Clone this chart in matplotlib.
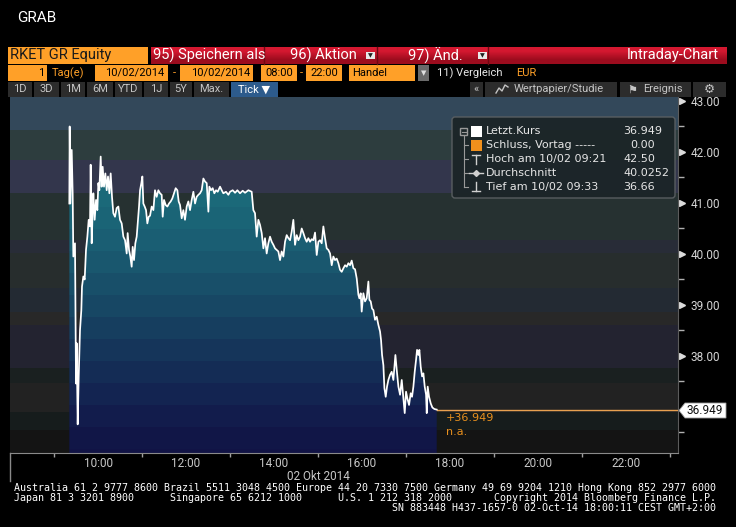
import matplotlib
matplotlib.use('Agg')
import matplotlib.pyplot as plt
import numpy as np
from matplotlib import transforms
from matplotlib.colors import to_rgb
from matplotlib.patches import FancyBboxPatch, Polygon, Rectangle

plt.rcParams['font.family'] = ['Roboto', 'DejaVu Sans']

W, H = 736, 527

# intraday ticks, RKET GR, 02 Okt 2014 (hours as decimals)
times = [
    9.348, 9.356, 9.371, 9.402, 9.424, 9.439, 9.477, 9.500, 9.515, 9.538,
    9.561, 9.591, 9.621, 9.636, 9.667, 9.697, 9.727, 9.758, 9.788, 9.818,
    9.833, 9.856, 9.879, 9.894, 9.924, 9.955, 9.985, 10.008, 10.030, 10.061,
    10.083, 10.106, 10.136, 10.167, 10.197, 10.227, 10.258, 10.288, 10.318, 10.348,
    10.386, 10.424, 10.462, 10.500, 10.538, 10.576, 10.614, 10.652, 10.674, 10.705,
    10.735, 10.765, 10.788, 10.818, 10.848, 10.879, 10.909, 10.932, 10.955, 10.985,
    11.008, 11.030, 11.061, 11.091, 11.121, 11.152, 11.182, 11.220, 11.258, 11.295,
    11.333, 11.371, 11.409, 11.447, 11.470, 11.500, 11.538, 11.576, 11.614, 11.652,
    11.689, 11.727, 11.765, 11.803, 11.833, 11.864, 11.902, 11.939, 11.977, 12.015,
    12.053, 12.091, 12.129, 12.167, 12.205, 12.242, 12.280, 12.318, 12.356, 12.394,
    12.432, 12.470, 12.508, 12.530, 12.568, 12.606, 12.644, 12.682, 12.720, 12.773,
    12.811, 12.848, 12.909, 12.962, 13.000, 13.061, 13.114, 13.167, 13.227, 13.288,
    13.341, 13.417, 13.492, 13.530, 13.568, 13.606, 13.644, 13.682, 13.720, 13.758,
    13.795, 13.833, 13.871, 13.909, 13.947, 13.985, 14.023, 14.061, 14.098, 14.136,
    14.174, 14.212, 14.250, 14.288, 14.326, 14.364, 14.402, 14.439, 14.477, 14.515,
    14.553, 14.591, 14.629, 14.667, 14.705, 14.742, 14.780, 14.818, 14.856, 14.894,
    14.932, 14.970, 15.008, 15.045, 15.083, 15.121, 15.159, 15.197, 15.235, 15.273,
    15.311, 15.348, 15.386, 15.424, 15.462, 15.500, 15.538, 15.576, 15.614, 15.652,
    15.689, 15.727, 15.765, 15.803, 15.841, 15.879, 15.917, 15.939, 15.970, 15.992,
    16.030, 16.068, 16.106, 16.144, 16.167, 16.197, 16.227, 16.258, 16.295, 16.333,
    16.371, 16.409, 16.432, 16.455, 16.485, 16.508, 16.538, 16.568, 16.598, 16.636,
    16.674, 16.712, 16.758, 16.788, 16.826, 16.864, 16.902, 16.939, 16.970, 17.000,
    17.030, 17.068, 17.106, 17.136, 17.167, 17.197, 17.227, 17.250, 17.280, 17.303,
    17.333, 17.364, 17.394, 17.424, 17.455, 17.470, 17.492, 17.523, 17.561, 17.598,
    17.644, 17.697,
]
prices = [
    40.99, 42.50, 40.99, 42.04, 41.19, 39.95, 40.21, 37.46, 38.25, 36.66,
    37.59, 38.51, 38.90, 39.36, 39.56, 39.50, 40.08, 40.34, 40.67, 40.54,
    41.75, 40.21, 40.86, 41.19, 40.67, 41.06, 40.86, 41.39, 41.25, 41.91,
    41.32, 41.71, 41.32, 41.58, 41.25, 41.52, 41.19, 41.58, 41.12, 40.80,
    40.73, 40.90, 40.93, 40.67, 40.60, 40.34, 40.27, 40.01, 40.41, 40.08,
    39.95, 39.75, 40.14, 39.88, 40.21, 40.34, 40.67, 40.93, 41.25, 41.39,
    41.52, 40.99, 40.93, 40.86, 40.60, 40.73, 40.75, 40.93, 40.86, 41.25,
    41.12, 41.25, 41.19, 41.16, 40.73, 41.06, 40.96, 40.93, 40.99, 41.03,
    41.09, 41.19, 41.29, 41.25, 41.03, 40.96, 40.70, 40.86, 40.67, 40.93,
    41.03, 40.86, 41.06, 41.22, 40.99, 41.12, 41.16, 41.19, 41.25, 41.48,
    41.42, 41.39, 40.83, 41.32, 41.25, 41.29, 41.19, 41.25, 41.22, 41.32,
    41.25, 41.19, 41.22, 41.16, 41.22, 41.25, 41.20, 41.25, 41.19, 41.24,
    41.20, 41.25, 41.22, 40.86, 40.80, 40.34, 40.67, 40.57, 40.41, 40.11,
    40.31, 40.01, 40.21, 40.34, 40.24, 40.18, 40.11, 40.08, 40.05, 39.88,
    40.05, 39.95, 40.24, 40.37, 40.31, 40.27, 40.44, 40.67, 40.18, 40.37,
    40.27, 40.34, 40.50, 40.41, 40.31, 40.24, 40.31, 40.24, 40.29, 40.27,
    40.42, 39.98, 40.24, 40.27, 40.21, 40.54, 40.31, 40.11, 40.08, 40.01,
    39.78, 39.95, 39.88, 39.91, 39.82, 39.69, 39.65, 39.72, 39.78, 39.75,
    39.82, 39.78, 39.87, 39.72, 39.70, 39.52, 39.20, 39.13, 39.23, 38.87,
    39.23, 39.07, 39.13, 39.46, 39.10, 39.07, 38.93, 38.90, 38.71, 38.77,
    38.61, 38.48, 38.31, 38.02, 37.82, 37.37, 37.20, 37.40, 37.53, 37.63,
    37.69, 37.53, 38.02, 37.73, 37.40, 37.24, 37.53, 37.17, 36.88, 37.30,
    37.17, 37.04, 37.27, 37.20, 37.40, 37.69, 37.92, 38.12, 38.02, 38.12,
    37.79, 37.60, 37.66, 37.40, 37.24, 36.88, 37.40, 37.20, 37.07, 36.99,
    36.96, 36.949,
]

last_price = 36.949
prev_close = 0.00
high_price, high_time = 42.50, '09:21'
low_price, low_time = 36.66, '09:33'
average = 40.0252

y_ticks = [38, 39, 40, 41, 42, 43]
x_ticks = [10, 12, 14, 16, 18, 20, 22]
x_labels = ['10:00', '12:00', '14:00', '16:00', '18:00', '20:00', '22:00']

XMIN, XMAX = 8.0, 23.18
YMIN, YMAX = 36.098, 43.078

# plot area in pixels: x 10..678, y 97..453
PL, PR, PT, PB = 10, 678, 97, 453
ph = PB - PT

fig = plt.figure(figsize=(W / 100, H / 100), dpi=100, facecolor='black')
ax = fig.add_axes([PL / W, (H - PB) / H, (PR - PL) / W, ph / H])


def banded(edges, colors):
    img = np.zeros((ph, 1, 3))
    for i, c in enumerate(colors):
        top = edges[i] - PT
        bot = (edges[i + 1] if i + 1 < len(edges) else PB) - PT
        img[top:bot, 0, :] = to_rgb(c)
    return img


# banded background
bg_edges = [97, 130, 160, 193, 240, 253, 288, 312, 325, 368, 383, 412, 430]
bg_cols = ['#33485a', '#2d3d3e', '#33364c', '#263131', '#282c37', '#272d2d',
           '#232a33', '#282828', '#232330', '#1a2020', '#222222', '#161c1c', '#141414']
ax.imshow(banded(bg_edges, bg_cols), extent=[XMIN, XMAX, YMIN, YMAX],
          aspect='auto', interpolation='nearest', zorder=0)

# gradient fill under the price line
fill_edges = list(range(97, 453, 22))
fill_cols = ['#1e7482', '#1d7180', '#1c6e7e', '#1b6b7b', '#1b6979', '#1a6476',
             '#1a5e73', '#19576e', '#184f69', '#174764', '#163e5f', '#15355a',
             '#142c55', '#132451', '#121c4c', '#111647', '#111345']
fill_cols = fill_cols[:len(fill_edges)]
verts = np.column_stack([np.r_[times[0], times, times[-1]],
                         np.r_[YMIN, prices, YMIN]])
clip = Polygon(verts, closed=True, facecolor='none', edgecolor='none')
ax.add_patch(clip)
im = ax.imshow(banded(fill_edges, fill_cols), extent=[XMIN, XMAX, YMIN, YMAX],
               aspect='auto', interpolation='nearest', zorder=1)
im.set_clip_path(clip)

ax.plot(times, prices, color='white', lw=1.25, zorder=4)
ax.plot([times[-1], XMAX], [last_price, last_price], color='#e8a050', lw=1.0, zorder=3)

ax.set_xlim(XMIN, XMAX)
ax.set_ylim(YMIN, YMAX)

# axes / ticks
for s in ['top', 'left']:
    ax.spines[s].set_visible(False)
ax.spines['bottom'].set_color('#8a8a8a')
ax.spines['right'].set_color('#5c5c5c')

ax.yaxis.tick_right()
ax.set_yticks(y_ticks)
ax.set_yticklabels([f'{v:.2f}' for v in y_ticks])
ax.set_yticks(np.arange(36.5, 43.0, 1.0), minor=True)
ax.tick_params(axis='y', which='major', length=0, pad=9, labelsize=8.5, labelcolor='#d4d4d4')
ax.tick_params(axis='y', which='minor', length=4, width=1, color='#b0b0b0')
tr = transforms.blended_transform_factory(ax.transAxes, ax.transData)
ax.plot([1.0067] * len(y_ticks), y_ticks, transform=tr, marker='>', ms=4,
        color='#dcdcdc', ls='none', clip_on=False)

ax.set_xticks(x_ticks)
ax.set_xticklabels(x_labels)
ax.set_xticks(np.arange(9, 24, 2), minor=True)
ax.tick_params(axis='x', which='major', length=0, pad=3, labelsize=8.5, labelcolor='#c8c8c8')
ax.tick_params(axis='x', which='minor', length=3, width=1, color='#a0a0a0')

ax.set_xlim(XMIN, XMAX)
ax.set_ylim(YMIN, YMAX)

# overlay in pixel coordinates for the terminal chrome
ov = fig.add_axes([0, 0, 1, 1], zorder=10)
ov.set_xlim(0, W)
ov.set_ylim(H, 0)
ov.axis('off')


def box(x0, y0, x1, y1, color, **kw):
    p = Rectangle((x0, y0), x1 - x0, y1 - y0, facecolor=color, edgecolor='none', **kw)
    ov.add_patch(p)
    return p


def txt(x, y, s, color='white', size=8, ha='left', **kw):
    return ov.text(x, y, s, color=color, fontsize=size, ha=ha, va='center', **kw)


ORANGE = '#ffa028'
txt(17, 17.5, 'GRAB', size=11)

# row 1
box(8, 47, 148, 64, ORANGE)
txt(10, 55.5, 'RKET GR Equity', color='#1a1a1a', size=10.5)
ov.imshow(np.array([[to_rgb('#d41830')], [to_rgb('#9c0c1e')]]),
          extent=(151, 727, 64, 47), aspect='auto', interpolation='bilinear', zorder=1)
for sx in [264, 377, 488]:
    ov.plot([sx, sx], [47, 64], color='#6e0812', lw=1, zorder=2)
clip1 = box(151, 47, 263, 64, 'none')
t = txt(153, 55.5, '95) Speichern als', size=10.5, zorder=3)
t.set_clip_path(clip1)
txt(290, 55.5, '96) Aktion', size=10.5, zorder=3)
txt(408, 55.5, '97) Änd.', size=10.5, zorder=3)
txt(719, 55.5, 'Intraday-Chart', size=10.5, ha='right', zorder=3)
for dx in [366, 478]:
    box(dx, 52, dx + 9, 59, '#e8e8e8', zorder=3)
    txt(dx + 4.5, 56, '▼', color='#202020', size=4.5, ha='center', zorder=4)
ov.set_xlim(0, W)
ov.set_ylim(H, 0)

# row 2
box(8, 65, 47, 81, ORANGE)
txt(44, 73, '1', color='black', ha='right')
txt(52, 73, 'Tag(e)', color=ORANGE)
box(95, 65, 168, 81, ORANGE)
txt(164, 73, '10/02/2014', color='black', ha='right')
txt(174, 73, '-', color=ORANGE, ha='center')
box(180, 65, 253, 81, ORANGE)
txt(250, 73, '10/02/2014', color='black', ha='right')
box(261, 65, 297, 81, ORANGE)
txt(279, 73, '08:00', color='black', ha='center')
txt(301, 73, '-', color=ORANGE, ha='center')
box(306, 65, 342, 81, ORANGE)
txt(324, 73, '22:00', color='black', ha='center')
box(349, 65, 415, 81, ORANGE)
txt(352, 73, 'Handel', color='black')
box(418, 65, 429, 81, '#6a6a6a')
txt(423.5, 73.5, '▼', color='#e0e0e0', size=5, ha='center')
txt(437, 73, '11) Vergleich', color='#e8e8e8')
txt(516, 73, 'EUR', color=ORANGE)

# row 3
buttons = [('1D', 8, 32), ('3D', 34, 59), ('1M', 61, 85), ('6M', 87, 113),
           ('YTD', 115, 142), ('1J', 144, 168), ('5Y', 170, 192), ('Max.', 194, 229)]
for label, b0, b1 in buttons:
    box(b0, 82, b1, 97, '#2c2c2c')
    txt((b0 + b1) / 2, 89.5, label, color='#c4c4c4', ha='center')
box(231, 82, 278, 97, '#2d5b8c')
txt(254.5, 89.5, 'Tick ▼', color='white', ha='center')
box(470, 82, 483, 97, '#2c2c2c')
txt(476.5, 89, '«', color='#c4c4c4', ha='center')
box(485, 82, 617, 97, '#2c2c2c')
ov.plot([496, 499, 502, 505, 508], [93, 88, 91, 85, 87], color='#c4c4c4', lw=1)
txt(514, 89.5, 'Wertpapier/Studie', color='#c4c4c4')
box(620, 82, 691, 97, '#2c2c2c')
txt(632, 89.5, '⚑', color='#c4c4c4', size=8, ha='center', family='DejaVu Sans')
txt(643, 89.5, 'Ereignis', color='#c4c4c4')
box(693, 82, 726, 97, '#2c2c2c')
txt(709.5, 89.5, '⚙', color='#c4c4c4', size=9, ha='center', family='DejaVu Sans')

# legend box
ov.add_patch(FancyBboxPatch((452, 117), 223, 81, boxstyle='round,pad=0,rounding_size=3',
                            facecolor='#1c2528', edgecolor='#5a5f62', lw=1, alpha=0.96))
rows = [131, 145, 159, 173, 187]
grey = '#9a9a9a'
box(460, 128, 467, 135, 'none').set_edgecolor(grey)
ov.plot([461.5, 465.5], [131.5, 131.5], color=grey, lw=0.8)
ov.plot([463.5, 463.5], [135, 187], color=grey, lw=0.8)
for ry in rows[1:]:
    ov.plot([463.5, 468], [ry, ry], color=grey, lw=0.8)
box(471, 126, 482, 137, 'white')
box(471, 140, 482, 151, '#f0901c')
ov.plot([472, 480], [155, 155], color='#d0d0d0', lw=1)
ov.plot([476, 476], [155, 164], color='#d0d0d0', lw=1)
ov.plot([469, 483], [173, 173], color='#d0d0d0', lw=1)
ov.plot([476], [173], marker='D', ms=3, color='#d0d0d0')
ov.plot([476, 476], [182, 191], color='#d0d0d0', lw=1)
ov.plot([472, 480], [191, 191], color='#d0d0d0', lw=1)
leg_fc = '#e6e6e6'
leg_kw = dict(color=leg_fc, size=8, family='DejaVu Sans')
txt(486, rows[0], 'Letzt.Kurs', **leg_kw)
txt(486, rows[1], 'Schluss, Vortag -----', **leg_kw)
txt(486, rows[2], f'Hoch am 10/02 {high_time}', **leg_kw)
txt(486, rows[3], 'Durchschnitt', **leg_kw)
txt(486, rows[4], f'Tief am 10/02 {low_time}', **leg_kw)
txt(623, rows[0], f'{last_price:.3f}', **leg_kw)
txt(630, rows[1], f'{prev_close:.2f}', **leg_kw)
txt(623, rows[2], f'{high_price:.2f}', **leg_kw)
txt(623, rows[3], f'{average:.4f}', **leg_kw)
txt(623, rows[4], f'{low_price:.2f}', **leg_kw)

# last price annotation
txt(446, 418, f'+{last_price:.3f}', color='#e8901e', size=8, family='DejaVu Sans')
txt(446, 432, 'n.a.', color='#e8901e', size=8, family='DejaVu Sans')
ov.add_patch(Polygon([[679, 410.5], [685, 403], [726, 403], [726, 418], [685, 418]],
                     closed=True, facecolor='white', edgecolor='#9a9a9a', lw=0.6))
txt(705, 410.5, f'{last_price:.3f}', color='#101010', size=8.5, ha='center')

# x axis caption and frame
ov.plot([10, 10], [453, 481], color='#8a8a8a', lw=1)
txt(318, 476, '02 Okt 2014', color='#c8c8c8', size=8.5, ha='center')

# footer
foot_kw = dict(color='white', size=7.2, family='DejaVu Sans Mono')
txt(14, 488, 'Australia 61 2 9777 8600 Brazil 5511 3048 4500 Europe 44 20 7330 7500 '
             'Germany 49 69 9204 1210 Hong Kong 852 2977 6000', **foot_kw)
txt(14, 498, 'Japan 81 3 3201 8900      Singapore 65 6212 1000      U.S. 1 212 318 2000'
             '       Copyright 2014 Bloomberg Finance L.P.', **foot_kw)
txt(716, 508, 'SN 883448 H437-1657-0 02-Oct-14 18:00:11 CEST GMT+2:00', ha='right', **foot_kw)

ov.set_xlim(0, W)
ov.set_ylim(H, 0)

fig.savefig('out.png', dpi=100, facecolor='black')
